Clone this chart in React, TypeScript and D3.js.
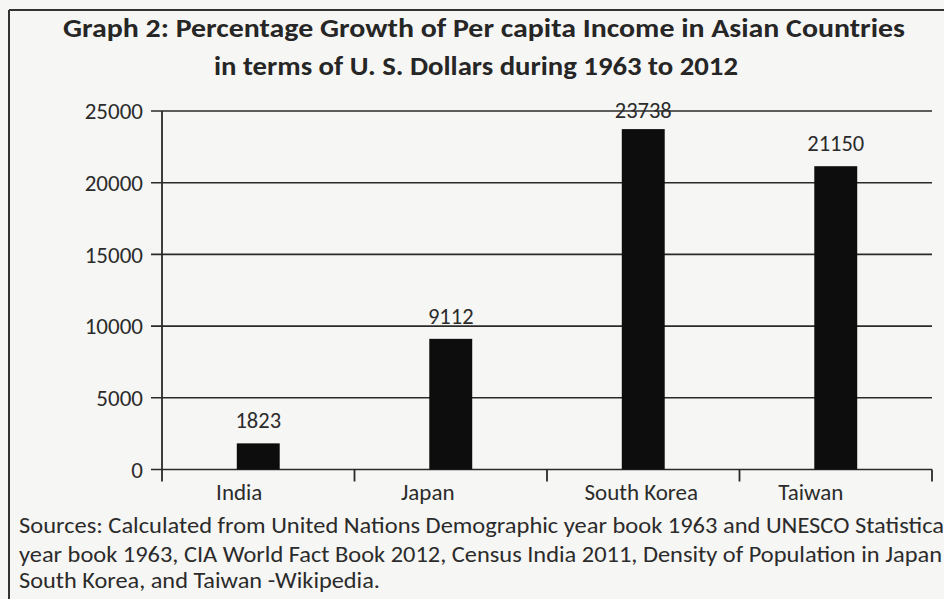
import React from "react";
import * as d3 from "d3";

const categories = ["India", "Japan", "South Korea", "Taiwan"];
const values = [1823, 9112, 23738, 21150];
const yTicks = [0, 5000, 10000, 15000, 20000, 25000];
const titleLines = [
  "Graph 2: Percentage Growth of Per capita Income in Asian Countries",
  "in terms of U. S. Dollars during 1963 to 2012",
];
const sourceLines = [
  "Sources: Calculated from United Nations Demographic year book 1963 and UNESCO Statistica",
  "year book 1963, CIA World Fact Book 2012, Census India 2011, Density of Population in Japan",
  "South Korea, and Taiwan -Wikipedia.",
];

const W = 944;
const H = 599;
const FONT = "Carlito, Calibri, Lato, 'Open Sans', sans-serif";
const INK = "#2b2b2b";
const plot = { left: 162, right: 932, top: 111, bottom: 469.5 };
const labelNudge = [-19, -23, -2, -25];
const titleLayout = [
  { x: 63, y: 37, len: 842 },
  { x: 214, y: 75, len: 524 },
];
const sourceLayout = [
  { x: 19, y: 533, len: 925 },
  { x: 19, y: 561.5, len: 923 },
  { x: 19, y: 588, len: 361 },
];

export default function App() {
  const x = d3
    .scaleBand<string>()
    .domain(categories)
    .range([plot.left, plot.right])
    .padding(0);
  const y = d3.scaleLinear().domain([0, 25000]).range([plot.bottom, plot.top]);
  const barW = x.bandwidth() * 0.223;
  const boundaries = categories.map((c) => (x(c) as number) + x.bandwidth());

  return (
    <div style={{ position: "absolute", left: 0, top: 0, width: W, height: H }}>
      <svg width={W} height={H} style={{ display: "block" }}>
        <rect x={0} y={0} width={W} height={H} fill="#f6f6f4" />
        {/* frame */}
        <line x1={9} x2={W} y1={10} y2={10} stroke="#333" strokeWidth={2} />
        <line x1={9} x2={9} y1={10} y2={H} stroke="#333" strokeWidth={2} />

        {/* title */}
        {titleLines.map((t, i) => (
          <text
            key={t}
            x={titleLayout[i].x}
            y={titleLayout[i].y}
            textLength={titleLayout[i].len}
            lengthAdjust="spacingAndGlyphs"
            fontFamily={FONT}
            fontWeight="bold"
            fontSize={26}
            fill="#262626"
          >
            {t}
          </text>
        ))}

        {/* gridlines and y ticks */}
        {yTicks.map((t) => (
          <g key={t}>
            <line
              x1={plot.left - 11}
              x2={plot.right}
              y1={y(t)}
              y2={y(t)}
              stroke="#2a2a2a"
              strokeWidth={1.6}
            />
            <text
              x={plot.left - 19}
              y={y(t)}
              dy="0.36em"
              textAnchor="end"
              fontFamily={FONT}
              fontSize={23}
              fill={INK}
            >
              {t}
            </text>
          </g>
        ))}

        {/* y axis */}
        <line x1={plot.left} x2={plot.left} y1={plot.top} y2={plot.bottom + 12} stroke="#2a2a2a" strokeWidth={1.8} />

        {/* x ticks */}
        {boundaries.map((b, i) => (
          <line key={i} x1={b} x2={b} y1={plot.bottom} y2={plot.bottom + 12} stroke="#2a2a2a" strokeWidth={1.8} />
        ))}

        {/* bars */}
        {categories.map((c, i) => {
          const cx = (x(c) as number) + x.bandwidth() / 2;
          const top = y(values[i]);
          return (
            <g key={c}>
              <rect x={cx - barW / 2} y={top} width={barW} height={plot.bottom - top} fill="#0d0d0d" />
              <text
                x={cx}
                y={Math.max(top - 15, plot.top + 7)}
                textAnchor="middle"
                fontFamily={FONT}
                fontSize={22.5}
                fill={INK}
              >
                {values[i]}
              </text>
              <text
                x={cx + labelNudge[i]}
                y={499.5}
                textAnchor="middle"
                fontFamily={FONT}
                fontSize={23}
                fill={INK}
              >
                {c}
              </text>
            </g>
          );
        })}

        {/* sources */}
        {sourceLines.map((s, i) => (
          <text
            key={i}
            x={sourceLayout[i].x}
            y={sourceLayout[i].y}
            textLength={sourceLayout[i].len}
            lengthAdjust="spacingAndGlyphs"
            fontFamily={FONT}
            fontSize={22}
            fill={INK}
          >
            {s}
          </text>
        ))}
      </svg>
    </div>
  );
}
